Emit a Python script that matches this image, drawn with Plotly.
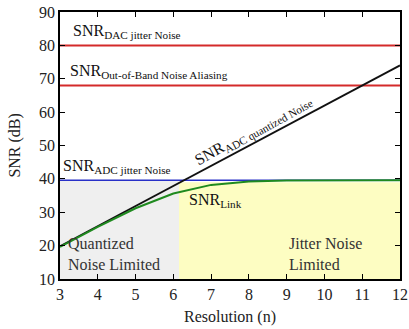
import plotly.graph_objects as go

resolution = [3, 4, 5, 6, 7, 8, 9, 10, 11, 12]
snr_adc_quant = [19.8, 25.8, 31.9, 37.9, 43.9, 49.9, 56.0, 62.0, 68.0, 74.0]
snr_link = [19.6, 25.6, 31.2, 35.6, 38.2, 39.2, 39.5, 39.6, 39.6, 39.6]
snr_dac_jitter = 80
snr_oob_alias = 68
snr_adc_jitter = 39.6
region_split = 6.15
region_top = 39.0

FONT = "Liberation Serif, DejaVu Serif, serif"

fig = go.Figure()

# shaded regions
fig.add_trace(go.Scatter(x=[3, region_split, region_split, 3, 3], y=[10, 10, snr_adc_jitter, snr_adc_jitter, 10],
                         fill="toself", fillcolor="#efefef", line=dict(width=0), mode="lines",
                         hoverinfo="skip", showlegend=False))
fig.add_trace(go.Scatter(x=[region_split, 12, 12, region_split, region_split], y=[10, 10, region_top, region_top, 10],
                         fill="toself", fillcolor="#fdfdc2", line=dict(width=0), mode="lines",
                         hoverinfo="skip", showlegend=False))

fig.add_trace(go.Scatter(x=[3, 12], y=[snr_dac_jitter] * 2, mode="lines",
                         line=dict(color="#d42a2a", width=2), showlegend=False))
fig.add_trace(go.Scatter(x=[3, 12], y=[snr_oob_alias] * 2, mode="lines",
                         line=dict(color="#d42a2a", width=2), showlegend=False))
fig.add_trace(go.Scatter(x=[3, 12], y=[snr_adc_jitter] * 2, mode="lines",
                         line=dict(color="#2830c8", width=1.6), showlegend=False))
fig.add_trace(go.Scatter(x=resolution, y=snr_adc_quant, mode="lines",
                         line=dict(color="#111111", width=1.8), showlegend=False))
fig.add_trace(go.Scatter(x=resolution, y=snr_link, mode="lines",
                         line=dict(color="#1f8a1f", width=2), showlegend=False))

ann_font = dict(family=FONT, size=16, color="#111")
region_font = dict(family=FONT, size=16, color="#333")
annotations = [
    dict(x=3.3, y=80.6, text="SNR<sub>DAC jitter Noise</sub>", xanchor="left", yanchor="bottom"),
    dict(x=3.2, y=68.6, text="SNR<sub>Out-of-Band Noise Aliasing</sub>", xanchor="left", yanchor="bottom"),
    dict(x=3.02, y=40.2, text="SNR<sub>ADC jitter Noise</sub>", xanchor="left", yanchor="bottom"),
    dict(x=8.1, y=54.6, text="SNR<sub>ADC quantized Noise</sub>", xanchor="center", yanchor="middle", textangle=-29),
    dict(x=6.35, y=33.4, text="SNR<sub>Link</sub>", xanchor="left", yanchor="middle"),
    dict(x=3.15, y=17.6, text="Quantized<br>Noise Limited", xanchor="left", yanchor="middle", align="left",
         font=region_font),
    dict(x=9.0, y=17.6, text="Jitter Noise<br>Limited", xanchor="left", yanchor="middle", align="left",
         font=region_font),
    dict(x=0.5, y=-0.143, xref="paper", yref="paper", text="Resolution (n)", xanchor="center", yanchor="middle",
         font=dict(family=FONT, size=16, color="#222")),
    dict(x=-0.135, y=0.5, xref="paper", yref="paper", text="SNR (dB)", xanchor="center", yanchor="middle",
         textangle=-90, font=dict(family=FONT, size=16, color="#222")),
]
for a in annotations:
    a.setdefault("font", ann_font)
    a.setdefault("xref", "x")
    a.setdefault("yref", "y")
    a["showarrow"] = False

axis_common = dict(showline=True, linecolor="black", linewidth=1.5, mirror="ticks", ticks="inside",
                   ticklen=5, tickcolor="black", showgrid=False, zeroline=False, automargin=False,
                   tickfont=dict(family=FONT, size=16, color="#222"))

fig.update_layout(
    width=409, height=329,
    margin=dict(l=60, r=9, t=12, b=50),
    plot_bgcolor="white", paper_bgcolor="white",
    font=dict(family=FONT),
    annotations=annotations,
    xaxis=dict(range=[3, 12], dtick=1, **axis_common),
    yaxis=dict(range=[10, 90], dtick=10, **axis_common),
)

fig.write_html("out.html", config={"displayModeBar": False},
               post_script="document.body.style.margin='0';")
